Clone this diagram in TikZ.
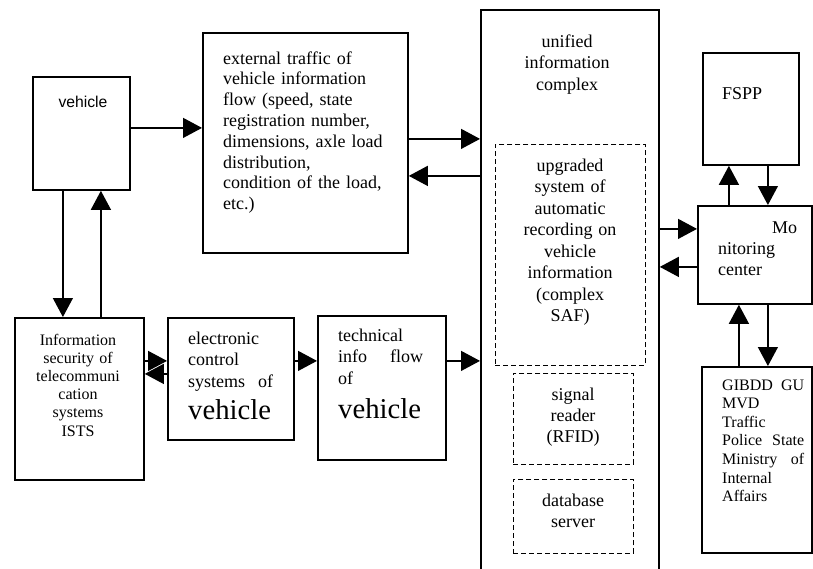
\documentclass[tikz,border=0pt]{standalone}
\usepackage{fontspec}
\setmainfont{Liberation Serif}
\newfontfamily\arialf{Liberation Sans}
\usetikzlibrary{arrows.meta}
\begin{document}
\begin{tikzpicture}[x=1pt,y=-1pt,
  box/.style={draw, line width=1.8pt, inner sep=0pt, anchor=north west},
  dbox/.style={draw, line width=0.9pt, dash pattern=on 5pt off 3pt, inner sep=0pt, anchor=north west},
  arr/.style={line width=1.3pt, -{Triangle[length=19pt,width=20pt]}},
  ltxt/.style={inner sep=0pt, anchor=base west, align=left},
  ctxt/.style={inner sep=0pt, anchor=base, align=center},
  big/.style={font=\fontsize{18}{21.5}\selectfont},
  small/.style={font=\fontsize{16}{18.4}\selectfont},
  huge/.style={font=\fontsize{28.7}{32}\selectfont}]
\useasboundingbox (0,0) rectangle (813,568);
\fill[white] (0,0) rectangle (813,568);
\clip (0,0) rectangle (813,568);
% boxes
\node[box, minimum width=97pt, minimum height=113pt] (veh) at (32,76) {};
\node[box, minimum width=205pt, minimum height=220pt] (ext) at (202,32) {};
\node[box, minimum width=178pt, minimum height=600pt] (uic) at (480,9) {};
\node[dbox, minimum width=150pt, minimum height=221pt] (saf) at (495,144) {};
\node[dbox, minimum width=120pt, minimum height=91pt] (rfid) at (513,373) {};
\node[dbox, minimum width=120pt, minimum height=74pt] (db) at (513,479) {};
\node[box, minimum width=96pt, minimum height=112pt] (fspp) at (702,52) {};
\node[box, minimum width=114pt, minimum height=98pt] (mon) at (697,205) {};
\node[box, minimum width=110pt, minimum height=186pt] (gib) at (701,366) {};
\node[box, minimum width=129pt, minimum height=162pt] (ists) at (14,317) {};
\node[box, minimum width=126pt, minimum height=122pt] (elec) at (167,317) {};
\node[box, minimum width=128pt, minimum height=144pt] (tech) at (317,315) {};
% texts
\node[ctxt, font=\arialf\fontsize{15.7}{18}\selectfont] (vehtxt) at (83,107) {vehicle};
\node[ltxt, text width=184pt, font=\fontsize{18}{20.8}\selectfont] (exttxt) at (223,64)
  {external traffic of\\vehicle information\\flow (speed, state\\registration number,\\dimensions, axle load\\distribution,\\condition of the load,\\etc.)};
\node[ctxt, big, text width=160pt] (uictxt) at (567,47) {unified\\information\\complex};
\node[ctxt, big, text width=140pt] (saftxt) at (570,171)
  {upgraded\\system of\\automatic\\recording on\\vehicle\\information\\(complex\\SAF)};
\node[ctxt, text width=110pt, font=\fontsize{18}{21}\selectfont] (rfidtxt) at (573,400) {signal\\reader\\(RFID)};
\node[ctxt, text width=110pt, font=\fontsize{18}{21}\selectfont] (dbtxt) at (573,506) {database\\server};
\node[ltxt, big] (fspptxt) at (722,99) {FSPP};
\node[ltxt, text width=82pt, font=\fontsize{18}{21}\selectfont] (montxt) at (718,233)
  {\makebox[79pt][r]{Mo}\\nitoring\\center};
\node[ltxt, text width=84pt, font=\fontsize{16}{18.6}\selectfont] (gibtxt) at (722,390)
  {\makebox[82pt][l]{GIBDD\hfill GU}\\MVD\\Traffic\\\makebox[82pt][l]{Police\hfill State}\\\makebox[82pt][l]{Ministry\hfill of}\\Internal\\Affairs};
\node[ctxt, text width=125pt, font=\fontsize{16}{18.2}\selectfont] (iststxt) at (78,345)
  {Information\\security of\\telecommuni\\cation\\systems\\ISTS};
\node[ltxt, text width=100pt, big] (electxt) at (188,344)
  {electronic\\control\\\makebox[85pt][l]{systems\hfill of}};
\node[ltxt, huge] (elecveh) at (188,419) {vehicle};
\node[ltxt, text width=100pt, big] (techtxt) at (338,341)
  {technical\\\makebox[85pt][l]{info\hfill flow}\\of};
\node[ltxt, huge] (techveh) at (338,418) {vehicle};
% connectors
\draw[arr] ([yshift=5.5pt]veh.east) -- ([yshift=5.5pt]veh.east -| ext.west);
\draw[arr] ([xshift=-18.5pt]veh.south) -- ([xshift=-18.5pt]veh.south |- ists.north);
\draw[arr] ([xshift=19.5pt]veh.south |- ists.north) -- ([xshift=19.5pt]veh.south);
\draw[arr] ([yshift=4pt]ext.east) -- ([yshift=4pt]ext.east -| uic.west);
\draw[arr] ([yshift=-33pt]ext.east -| uic.west) -- ([yshift=-33pt]ext.east);
\draw[arr] ([yshift=26pt]mon.west -| uic.east) -- ([yshift=26pt]mon.west);
\draw[arr] ([yshift=-12pt]mon.west) -- ([yshift=-12pt]mon.west -| uic.east);
\draw[arr] ([xshift=-22pt]fspp.south |- mon.north) -- ([xshift=-22pt]fspp.south);
\draw[arr] ([xshift=17pt]fspp.south) -- ([xshift=17pt]fspp.south |- mon.north);
\draw[arr] ([xshift=-16pt]mon.south |- gib.north) -- ([xshift=-16pt]mon.south);
\draw[arr] ([xshift=13pt]mon.south) -- ([xshift=13pt]mon.south |- gib.north);
\draw[arr] ([yshift=38pt]ists.east) -- ([yshift=38pt]ists.east -| elec.west);
\draw[arr] ([yshift=5pt]elec.west) -- ([yshift=5pt]elec.west -| ists.east);
\draw[arr] ([yshift=18pt]elec.east) -- ([yshift=18pt]elec.east -| tech.west);
\draw[arr] ([yshift=27pt]tech.east) -- ([yshift=27pt]tech.east -| uic.west);
\end{tikzpicture}
\end{document}
